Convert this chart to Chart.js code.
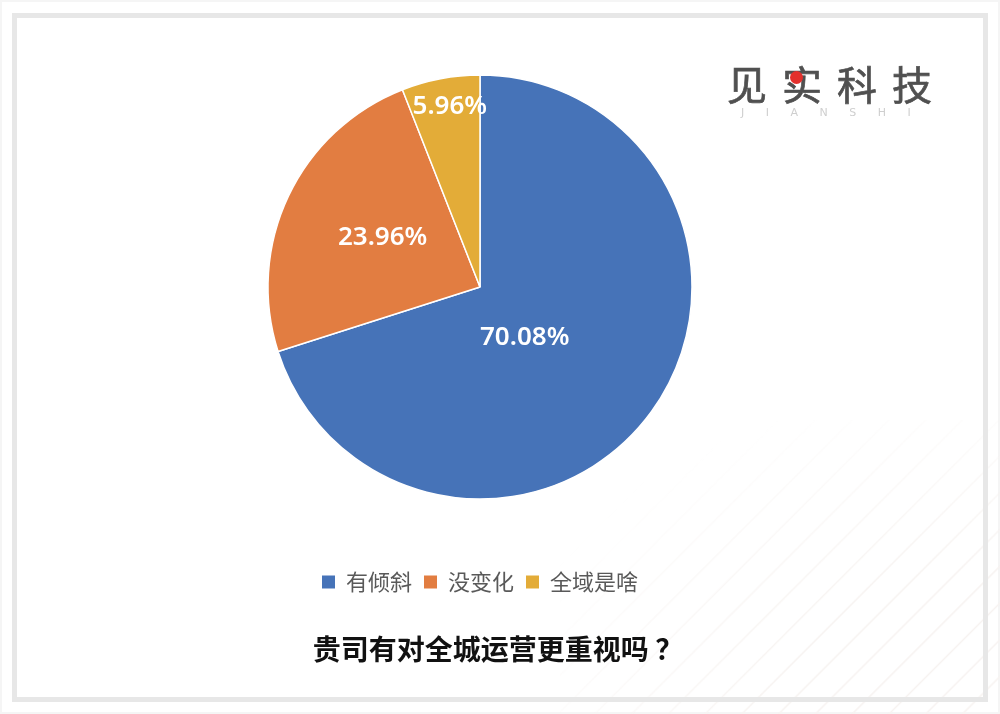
<!DOCTYPE html>
<html>
<head>
<meta charset="utf-8">
<script src="https://cdn.jsdelivr.net/npm/chart.js@4/dist/chart.umd.min.js"></script>
<style>
  html, body { margin: 0; padding: 0; background: #fff; }
  #wrap { position: relative; width: 1000px; height: 714px; overflow: hidden; }
  #edge { position: absolute; left: 0; top: 0; width: 1000px; height: 714px; box-sizing: border-box; border: 2px solid #f5f5f5; }
  #stripes {
    position: absolute; left: 560px; top: 420px; width: 440px; height: 294px;
    background: repeating-linear-gradient(135deg, transparent 0 23px, #f7f3f1 24.5px, transparent 26px);
    -webkit-mask-image: radial-gradient(ellipse at 100% 100%, #000 35%, transparent 80%);
    mask-image: radial-gradient(ellipse at 100% 100%, #000 35%, transparent 80%);
  }
  #frame { position: absolute; left: 12px; top: 13px; width: 976px; height: 689px; box-sizing: border-box; border: 5px solid #e7e7e7; }
  #c { position: absolute; left: 0; top: 0; }
  #logo { position: absolute; left: 727px; top: 55px; font-family: "Noto Sans CJK SC", sans-serif; font-size: 40px; color: #505050; -webkit-text-stroke: 0.7px #505050; letter-spacing: 15px; line-height: 56px; white-space: nowrap; }
  #dot { position: absolute; left: 790px; top: 71px; width: 13px; height: 13px; border-radius: 50%; background: #e3302c; }
  #sub { position: absolute; left: 741px; top: 106px; font-family: "DejaVu Sans", sans-serif; font-size: 11px; color: #cfcfcf; letter-spacing: 21.5px; white-space: nowrap; }
</style>
</head>
<body>
<div id="wrap">
  <div id="edge"></div>
  <div id="stripes"></div>
  <div id="frame"></div>
  <canvas id="c" width="1000" height="714"></canvas>
  <div id="logo">见实科技</div>
  <div id="dot"></div>
  <div id="sub">JIANSHI</div>
</div>
<script>
const categories = ["有倾斜", "没变化", "全域是啥"];
const shares = [70.08, 23.96, 5.96];
const colors = ["#4673B8", "#E27D41", "#E3AC38"];
const chartTitle = "贵司有对全城运营更重视吗 ？";

// where the % labels sit inside each slice (fraction of radius, angle nudge in degrees)
const labelRadius = [0.31, 0.52, 0.87];
const labelNudge = [11, 2.5, 1.3];

const sliceLabels = {
  id: "sliceLabels",
  afterDatasetsDraw(chart) {
    const ctx = chart.ctx;
    const meta = chart.getDatasetMeta(0);
    ctx.save();
    ctx.fillStyle = "#fff";
    ctx.font = "600 26px 'Noto Sans', sans-serif";
    ctx.textAlign = "center";
    ctx.textBaseline = "middle";
    meta.data.forEach((arc, i) => {
      const p = arc.getProps(["x", "y", "startAngle", "endAngle", "outerRadius"], true);
      const mid = (p.startAngle + p.endAngle) / 2 + labelNudge[i] * Math.PI / 180;
      const r = p.outerRadius * labelRadius[i];
      // +2: middle baseline sits a touch high for digits
      ctx.fillText(shares[i].toFixed(2) + "%", p.x + Math.cos(mid) * r, p.y + Math.sin(mid) * r + 2);
    });
    ctx.restore();
  }
};

// bottom title, sits a little right of the pie centre like the original
const bottomTitle = {
  id: "bottomTitle",
  afterDraw(chart) {
    const ctx = chart.ctx;
    const a = chart.chartArea;
    ctx.save();
    ctx.fillStyle = "#111";
    ctx.font = "bold 28px 'Noto Sans CJK SC', sans-serif";
    ctx.textAlign = "center";
    ctx.textBaseline = "middle";
    ctx.fillText(chartTitle, (a.left + a.right) / 2 + 18, chart.legend.bottom + 46);
    ctx.restore();
  }
};

const baseLabels = Chart.overrides.pie.plugins.legend.labels.generateLabels;

new Chart(document.getElementById("c"), {
  type: "pie",
  data: {
    labels: categories,
    datasets: [{
      data: shares,
      backgroundColor: colors,
      borderColor: "#fff",
      borderWidth: 1.5,
      radius: 212
    }]
  },
  options: {
    responsive: false,
    animation: false,
    layout: { padding: { top: 15, right: 40, bottom: 111, left: 0 } },
    plugins: {
      tooltip: { enabled: false },
      title: { display: false },
      legend: {
        position: "bottom",
        labels: {
          boxWidth: 13,
          boxHeight: 13,
          padding: 12,
          color: "#595959",
          font: { family: "'Noto Sans CJK SC', sans-serif", size: 22 },
          generateLabels(chart) {
            return baseLabels(chart).map((l) => ({ ...l, lineWidth: 0 }));
          }
        }
      }
    }
  },
  plugins: [sliceLabels, bottomTitle]
});
</script>
</body>
</html>
